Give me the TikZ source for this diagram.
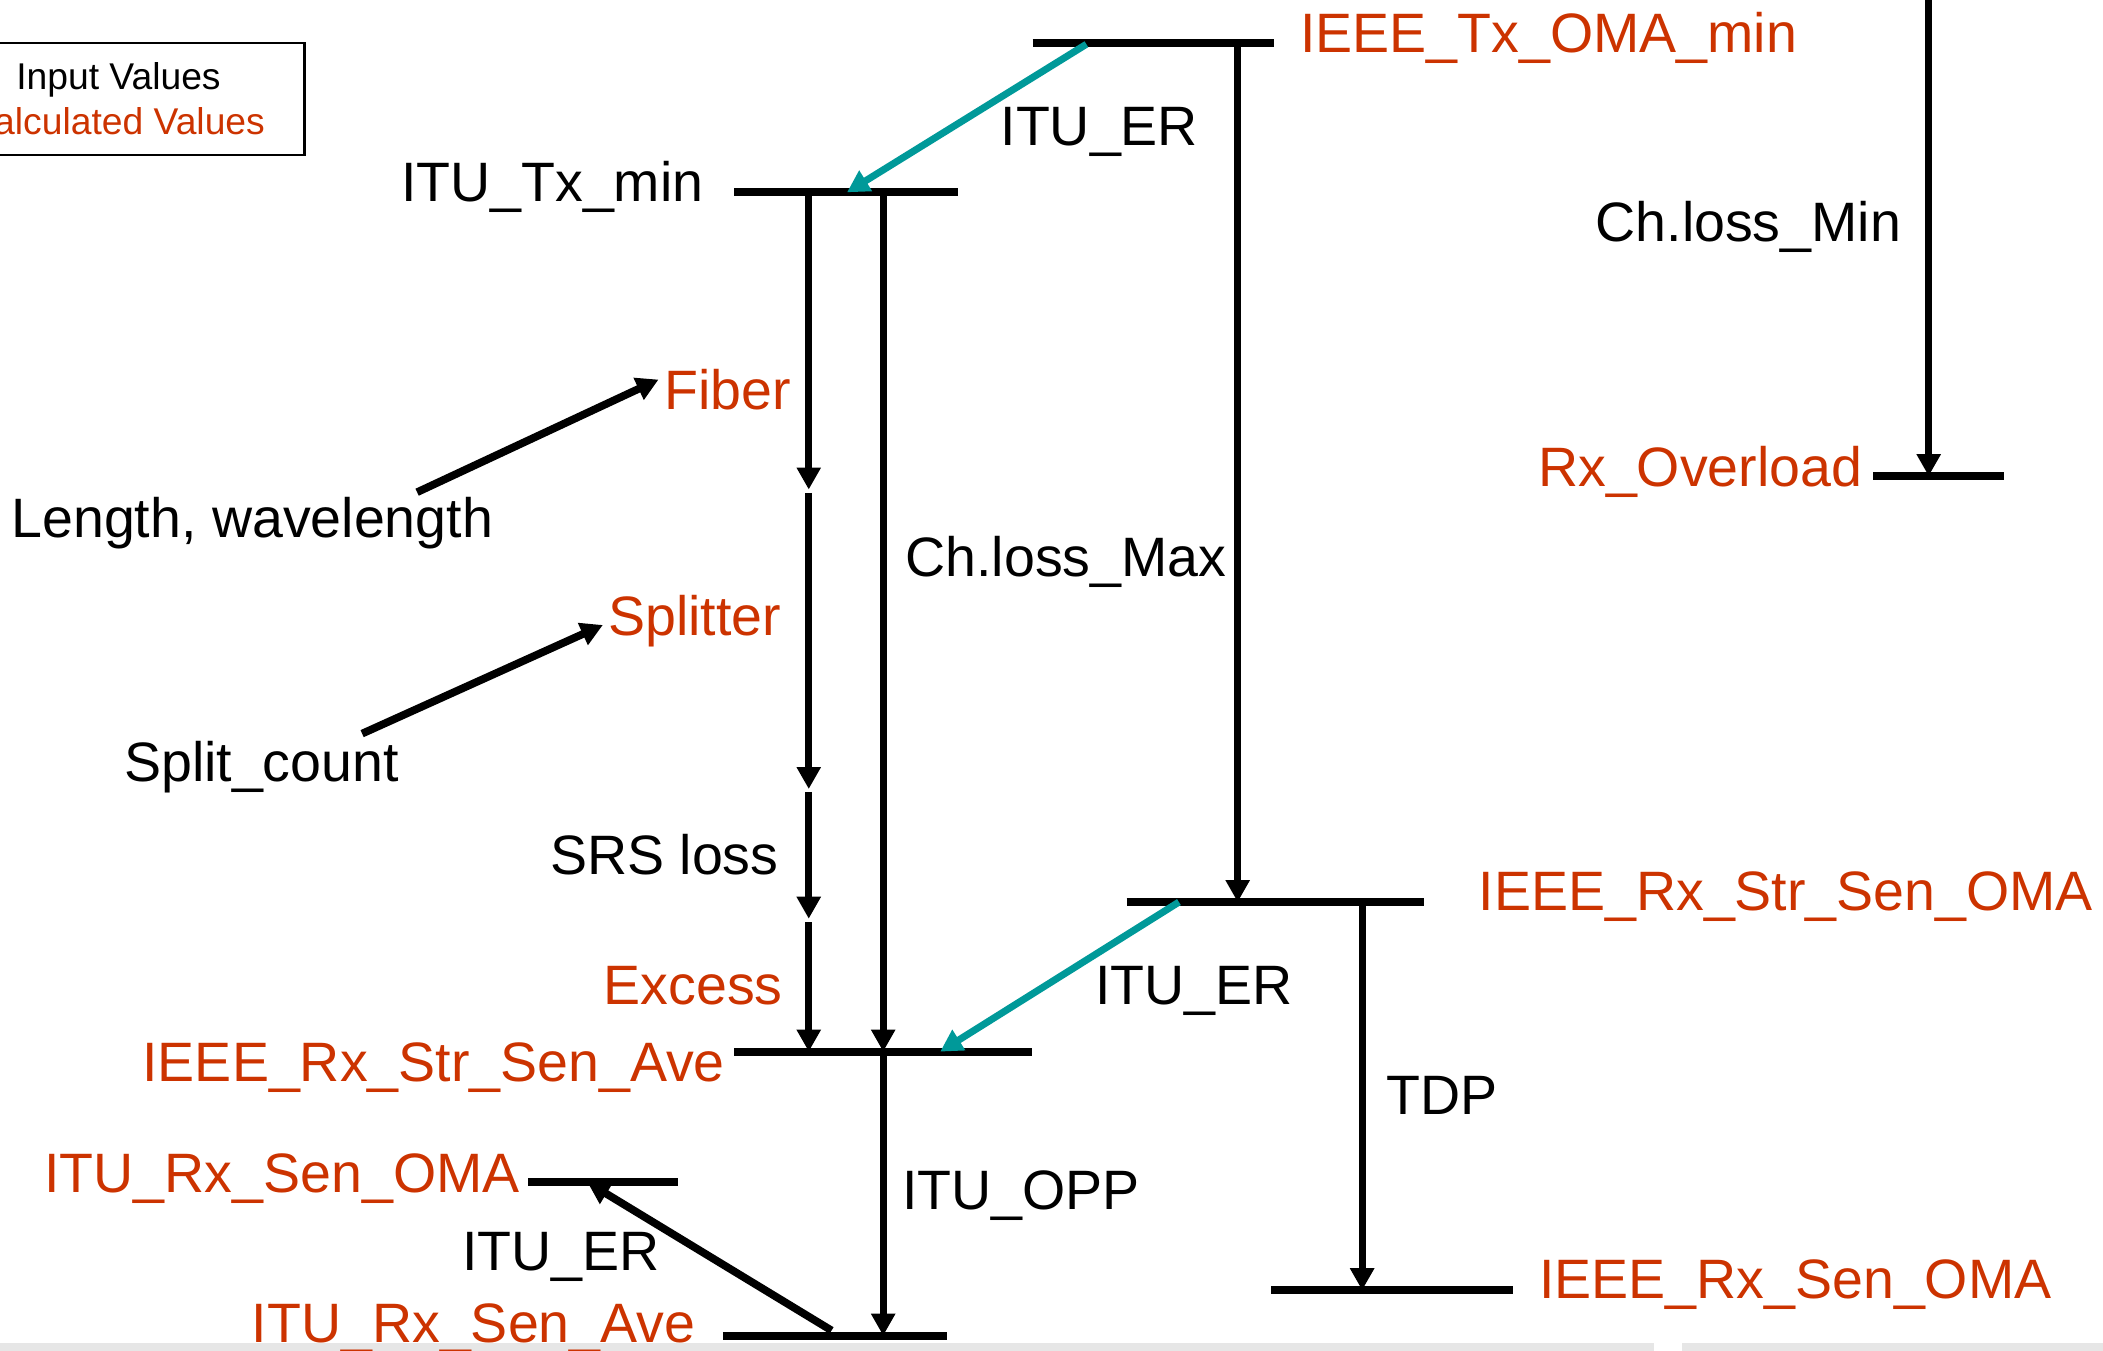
\documentclass[tikz,border=0pt]{standalone}
\usepackage{fontspec}
\setmainfont{Liberation Sans}
\usetikzlibrary{arrows.meta}
\definecolor{calc}{HTML}{CC3300}
\definecolor{erteal}{HTML}{009999}
\definecolor{stripgray}{HTML}{E6E6E6}
\tikzset{
  lbl/.style={inner sep=0pt, font=\fontsize{15.8}{19}\selectfont},
  calclbl/.style={lbl, text=calc},
  legendlbl/.style={inner sep=0pt, font=\fontsize{10.6}{13}\selectfont},
  level/.style={line width=2.3pt},
  flow/.style={line width=2pt, -{Triangle[length=0.22cm,width=0.23cm]}},
  erflow/.style={flow, draw=erteal, fill=erteal},
  feed/.style={line width=2.2pt, -{Triangle[length=0.22cm,width=0.23cm]}},
}
\begin{document}
\begin{tikzpicture}[x=0.013412cm, y=-0.013412cm]
\useasboundingbox (0,0) rectangle (1568,1007);

% bottom strip
\fill[stripgray] (0,1001) rectangle (1233,1008);
\fill[stripgray] (1254,1001) rectangle (1568,1008);

% legend
\draw[line width=0.6pt] (-60,32.3) rectangle (227,115.6);
\node[legendlbl, anchor=base west] (inval) at (11.6,66.6) {Input Values};
\node[legendlbl, anchor=base east, text=calc] (calcval) at (198,100) {Calculated Values};

% level coordinates
\coordinate (txL) at (770,32.3);    \coordinate (txR) at (950,32.3);
\coordinate (ituL) at (547.5,143.4); \coordinate (ituR) at (714,143.4);
\coordinate (ovL) at (1396.6,355);  \coordinate (ovR) at (1494,355);
\coordinate (soL) at (840,672.6);   \coordinate (soR) at (1062,672.6);
\coordinate (saL) at (547.4,784.1); \coordinate (saR) at (769.6,784.1);
\coordinate (roL) at (394,881);     \coordinate (roR) at (505.5,881);
\coordinate (raL) at (539,995.9);   \coordinate (raR) at (706,995.9);
\coordinate (seL) at (948,962);     \coordinate (seR) at (1128,962);

% levels
\draw[level] (txL) -- (txR);
\draw[level] (ituL) -- (ituR);
\draw[level] (ovL) -- (ovR);
\draw[level] (soL) -- (soR);
\draw[level] (saL) -- (saR);
\draw[level] (roL) -- (roR);
\draw[level] (raL) -- (raR);
\draw[level] (seL) -- (seR);

% flow coordinates
\coordinate (cmaxA) at (922.8,32.3);  \coordinate (cmaxB) at (922.8,672.6);
\coordinate (cminA) at (1438,-2);     \coordinate (cminB) at (1438,355);
\coordinate (c1a) at (603,143.4); \coordinate (c1b) at (603,365);
\coordinate (c2a) at (603,367.5); \coordinate (c2b) at (603,588.3);
\coordinate (c3a) at (603,590.5); \coordinate (c3b) at (603,685);
\coordinate (c4a) at (603,687.5); \coordinate (c4b) at (603,784.1);
\coordinate (pA) at (658.5,143.4); \coordinate (pB) at (658.5,784.1);
\coordinate (pC) at (658.5,995.9);
\coordinate (tdpA) at (1015.6,672.6); \coordinate (tdpB) at (1015.6,962);
\coordinate (er1A) at (810,33);  \coordinate (er1B) at (631.5,143.4);
\coordinate (er2A) at (879,672.6); \coordinate (er2B) at (701,784.1);
\coordinate (er3A) at (620,992); \coordinate (er3B) at (438,881.5);
\coordinate (lwA) at (311,367); \coordinate (lwB) at (491,283);
\coordinate (scA) at (270,547); \coordinate (scB) at (449.5,466);

% flows
\draw[flow] (cmaxA) -- (cmaxB);
\draw[flow] (cminA) -- (cminB);
\draw[flow] (c1a) -- (c1b);
\draw[flow] (c2a) -- (c2b);
\draw[flow] (c3a) -- (c3b);
\draw[flow] (c4a) -- (c4b);
\draw[flow] (pA) -- (pB);
\draw[flow] (pB) -- (pC);
\draw[flow] (tdpA) -- (tdpB);
\draw[erflow] (er1A) -- (er1B);
\draw[erflow] (er2A) -- (er2B);
\draw[feed] (er3A) -- (er3B);
\draw[feed] (lwA) -- (lwB);
\draw[feed] (scA) -- (scB);

% labels
\node[calclbl, anchor=base west] (ieeetx) at (969,39) {IEEE\_Tx\_OMA\_min};
\node[lbl, anchor=base east] (itutx) at (525,150) {ITU\_Tx\_min};
\node[lbl, anchor=base west] (erA) at (745.5,108.6) {ITU\_ER};
\node[lbl, anchor=base east] (chmin) at (1418,180) {Ch.loss\_Min};
\node[calclbl, anchor=base west] (fiber) at (495,305) {Fiber};
\node[calclbl, anchor=base east] (ovl) at (1389,362.4) {Rx\_Overload};
\node[lbl, anchor=base west] (lenwl) at (8,401) {Length, wavelength};
\node[lbl, anchor=base east] (chmax) at (915,430) {Ch.loss\_Max};
\node[calclbl, anchor=base west] (splitter) at (453,473.5) {Splitter};
\node[lbl, anchor=base west] (splitc) at (92,583) {Split\_count};
\node[lbl, anchor=base east] (srs) at (581,652) {SRS loss};
\node[calclbl, anchor=base west] (strsenoma) at (1102,679) {IEEE\_Rx\_Str\_Sen\_OMA};
\node[calclbl, anchor=base east] (excess) at (584,749) {Excess};
\node[lbl, anchor=base west] (erB) at (816,748.6) {ITU\_ER};
\node[calclbl, anchor=base east] (strsenave) at (541,806) {IEEE\_Rx\_Str\_Sen\_Ave};
\node[lbl, anchor=base west] (tdp) at (1033,831) {TDP};
\node[calclbl, anchor=base east] (rxoma) at (388,889) {ITU\_Rx\_Sen\_OMA};
\node[lbl, anchor=base west] (opp) at (672,902) {ITU\_OPP};
\node[lbl, anchor=base west] (erC) at (344,947) {ITU\_ER};
\node[calclbl, anchor=base west] (senoma) at (1147,968) {IEEE\_Rx\_Sen\_OMA};
\node[calclbl, anchor=base east] (rxave) at (519,1001) {ITU\_Rx\_Sen\_Ave};
\end{tikzpicture}
\end{document}
